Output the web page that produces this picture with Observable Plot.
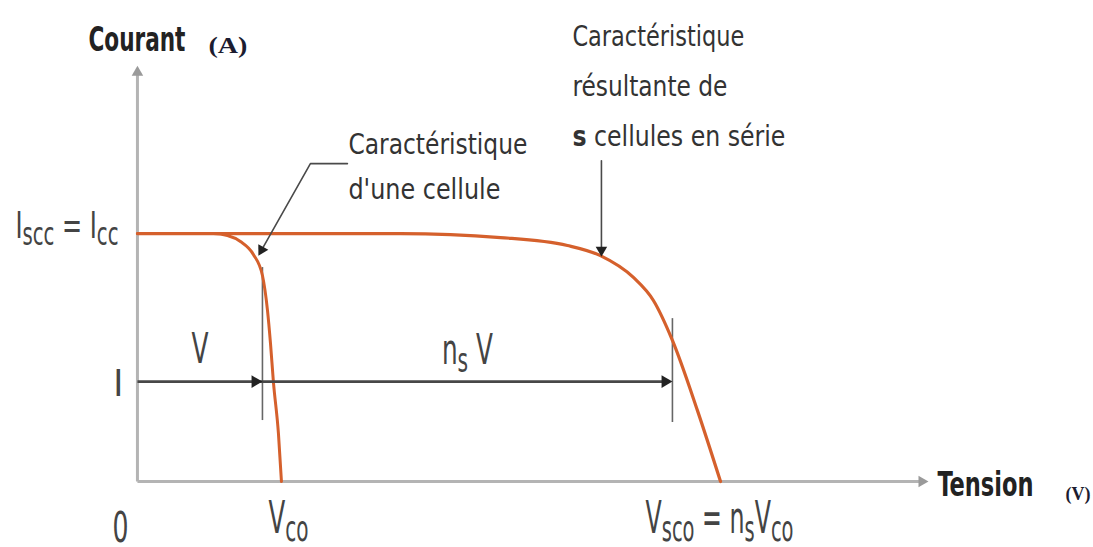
<!DOCTYPE html>
<html><head><meta charset="utf-8">
<script src="https://cdn.jsdelivr.net/npm/d3@7"></script>
<script src="https://cdn.jsdelivr.net/npm/@observablehq/plot@0.6"></script>
<style>html,body{margin:0;padding:0;background:#fff}svg{display:block}</style>
</head><body><div id="chart"></div>
<script>
// ---- data (voltage in units of Vco, current in units of Icc) ----
const vCell   = [0, 0.528, 0.625, 0.715, 0.806, 0.868, 0.903, 0.924, 0.944, 0.979, 1.0];
const iCell   = [1, 1, 0.992, 0.968, 0.915, 0.831, 0.690, 0.556, 0.403, 0.194, 0];
const vString = [0, 1.826, 2.521, 2.986, 3.215, 3.444, 3.583, 3.715, 3.889, 4.049];
const iString = [1, 1, 0.984, 0.952, 0.911, 0.823, 0.730, 0.569, 0.286, 0];
const Icc = 1, Iop = 0.403, Vop = 0.868, VopString = 3.715, Vco = 1, Vsco = 4.049;
const yAxisTop = 1.677, xAxisEnd = 5.493;
const tickCell = [0.863, 0.246], tickString = [0.657, 0.238];
const cellLeader = [[1.458, 1.282], [1.201, 1.282], [0.840, 0.911]];
const stringLeader = [[3.222, 1.294], [3.222, 0.907]];

// ---- layout ----
const W = 1093, H = 547;
const xDomain = [-0.951, 6.639], yDomain = [-0.266, 1.940];
const sx = d3.scaleLinear(xDomain, [0, W]), sy = d3.scaleLinear(yDomain, [H, 0]);
const sans = "'Liberation Sans Narrow','Arial Narrow','DejaVu Sans Condensed','Liberation Sans',sans-serif";
const serif = "'Liberation Serif','Times New Roman',serif";
const curveColor = "#d5602c";

function head(from, to, r) {
  const x1 = sx(from[0]), y1 = sy(from[1]), x2 = sx(to[0]), y2 = sy(to[1]);
  const len = Math.hypot(x2 - x1, y2 - y1), ux = (x2 - x1) / len, uy = (y2 - y1) / len;
  const s = 0.6824 * Math.sqrt(Math.PI) * r;
  return {x: sx.invert(x2 - ux * s), y: sy.invert(y2 - uy * s), rotate: Math.atan2(ux, -uy) * 180 / Math.PI, r};
}

const cellData = vCell.map((v, k) => ({v, i: iCell[k]}));
const stringData = vString.map((v, k) => ({v, i: iString[k]}));

const axisHeads = [head([0, 0], [0, yAxisTop], 5.5), head([0, 0], [xAxisEnd, 0], 5.5)];
const darkHeads = [
  head([0, Iop], [Vop, Iop], 6),
  head([Vop, Iop], [VopString, Iop], 6),
  head(cellLeader[1], cellLeader[2], 5.5),
  head(stringLeader[0], stringLeader[1], 5.5)
];

const labels = [
  {text: "Courant", x: 0, y: yAxisTop, dx: -49, dy: -15, anchor: "start", size: 33, weight: "bold", family: sans, fill: "#222", width: 97},
  {text: "(A)", x: 0, y: yAxisTop, dx: 71, dy: -13, anchor: "start", size: 24, weight: "bold", family: serif, fill: "#1c1c30", width: 39},
  {text: "Tension", x: xAxisEnd, y: 0, dx: 9, dy: 14, anchor: "start", size: 33, weight: "bold", family: sans, fill: "#222", width: 96},
  {text: "(V)", x: xAxisEnd, y: 0, dx: 137, dy: 18, anchor: "start", size: 19, weight: "bold", family: serif, fill: "#1c1c30", width: 25},
  {text: "I_{scc} = I_{cc}", x: 0, y: Icc, dx: -19, dy: 4, anchor: "end", size: 38, family: sans, fill: "#444", width: 103},
  {text: "I", x: 0, y: Iop, dx: -14, dy: 14, anchor: "end", size: 38, family: sans, fill: "#444"},
  {text: "0", x: 0, y: 0, dx: -9, dy: 60, anchor: "end", size: 42, family: sans, fill: "#444", width: 16},
  {text: "V_{co}", x: Vco, y: 0, dx: -13, dy: 51, anchor: "start", size: 44, family: sans, fill: "#444", width: 40},
  {text: "V_{sco} = n_{s}V_{co}", x: Vsco, y: 0, dx: -75, dy: 51, anchor: "start", size: 44, family: sans, fill: "#444", width: 148},
  {text: "V", x: Vop / 2, y: Iop, dx: 0, dy: -19, anchor: "middle", size: 42, family: sans, fill: "#444", width: 17},
  {text: "n_{s} V", x: (Vop + VopString) / 2, y: Iop, dx: 0, dy: -18, anchor: "middle", size: 42, family: sans, fill: "#444", width: 51},
  {text: "Caractéristique", x: cellLeader[0][0], y: cellLeader[0][1], dx: 1, dy: -10, anchor: "start", size: 29, family: sans, fill: "#333", width: 179},
  {text: "d'une cellule", x: cellLeader[0][0], y: cellLeader[0][1], dx: 1, dy: 35, anchor: "start", size: 29, family: sans, fill: "#333", width: 152},
  {text: "Caractéristique ", x: stringLeader[0][0], y: stringLeader[0][1], dx: -29, dy: -115, anchor: "start", size: 29, family: sans, fill: "#333", width: 179},
  {text: "résultante de", x: stringLeader[0][0], y: stringLeader[0][1], dx: -29, dy: -65, anchor: "start", size: 29, family: sans, fill: "#333", width: 155},
  {text: "*s* cellules en série", x: stringLeader[0][0], y: stringLeader[0][1], dx: -29, dy: -15, anchor: "start", size: 29, family: sans, fill: "#333", width: 213}
];
const labelByText = new Map(labels.map(l => [l.text, l]));

const textMarks = labels.map(l => Plot.text([l], {
  x: "x", y: "y", text: d => d.text, dx: l.dx, dy: l.dy, textAnchor: l.anchor, lineAnchor: "bottom",
  fontSize: l.size, fontWeight: l.weight || "normal", fontFamily: l.family, fill: l.fill
}));

const plot = Plot.plot({
  width: W, height: H,
  marginTop: 0, marginRight: 0, marginBottom: 0, marginLeft: 0,
  x: {domain: xDomain, axis: null},
  y: {domain: yDomain, axis: null},
  style: {fontFamily: sans, background: "#fff"},
  marks: [
    // axes
    Plot.link([0], {x1: 0, y1: 0, x2: 0, y2: axisHeads[0].y, stroke: "#b4b4b4", strokeWidth: 3}),
    Plot.link([0], {x1: 0, y1: 0, x2: axisHeads[1].x, y2: 0, stroke: "#b4b4b4", strokeWidth: 3}),
    Plot.dot(axisHeads, {x: "x", y: "y", rotate: "rotate", r: 5.5, symbol: "triangle2", fill: "#9a9a9a", stroke: "none"}),
    // tick marks at operating voltages
    Plot.ruleX([Vop], {y1: tickCell[0], y2: tickCell[1], stroke: "#666", strokeWidth: 1.6}),
    Plot.ruleX([VopString], {y1: tickString[0], y2: tickString[1], stroke: "#666", strokeWidth: 1.6}),
    // characteristic curves
    Plot.line(cellData, {x: "v", y: "i", curve: "monotone-x", stroke: curveColor, strokeWidth: 3}),
    Plot.line(stringData, {x: "v", y: "i", curve: "monotone-x", stroke: curveColor, strokeWidth: 3.2}),
    // voltage arrows at current I
    Plot.link([0], {x1: 0, y1: Iop, x2: darkHeads[1].x, y2: Iop, stroke: "#474747", strokeWidth: 2.6}),
    // leaders
    Plot.line([cellLeader[0], cellLeader[1], [darkHeads[2].x, darkHeads[2].y]], {x: d => d[0], y: d => d[1], stroke: "#4a4a4a", strokeWidth: 1.6}),
    Plot.line([stringLeader[0], [darkHeads[3].x, darkHeads[3].y]], {x: d => d[0], y: d => d[1], stroke: "#4a4a4a", strokeWidth: 1.6}),
    Plot.dot(darkHeads.slice(0, 2), {x: "x", y: "y", rotate: "rotate", r: 6, symbol: "triangle2", fill: "#222", stroke: "none"}),
    Plot.dot(darkHeads.slice(2), {x: "x", y: "y", rotate: "rotate", r: 5.5, symbol: "triangle2", fill: "#222", stroke: "none"}),
    ...textMarks
  ]
});
document.getElementById("chart").appendChild(plot);

// rich text: _{sub} subscripts and *bold*
const NS = "http://www.w3.org/2000/svg";
plot.querySelectorAll("text").forEach(t => {
  const raw = t.textContent;
  const spec = labelByText.get(raw);
  const F = parseFloat(getComputedStyle(t).fontSize);
  const parts = raw.split(/(_\{[^}]*\}|\*[^*]*\*)/).filter(s => s);
  t.textContent = "";
  let shifted = false;
  for (const p of parts) {
    const ts = document.createElementNS(NS, "tspan");
    if (p.startsWith("_{")) {
      ts.textContent = p.slice(2, -1);
      ts.setAttribute("font-size", 0.82 * F);
      if (!shifted) ts.setAttribute("dy", 0.2 * F);
      shifted = true;
    } else {
      const bold = p.startsWith("*");
      ts.textContent = bold ? p.slice(1, -1) : p;
      if (bold) ts.setAttribute("font-weight", "bold");
      if (shifted) { ts.setAttribute("dy", -0.2 * F); shifted = false; }
    }
    t.appendChild(ts);
  }
  if (spec && spec.width) {
    t.setAttribute("textLength", spec.width);
    t.setAttribute("lengthAdjust", "spacingAndGlyphs");
  }
});
</script>
</body></html>
